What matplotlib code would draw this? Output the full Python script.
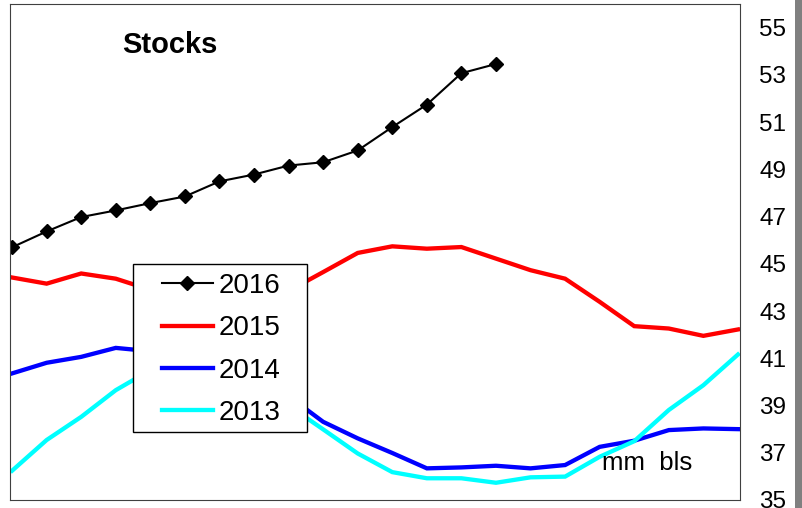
import matplotlib

matplotlib.use("Agg")
import matplotlib.pyplot as plt
from matplotlib.patches import Rectangle

plt.rcParams["font.family"] = ["Liberation Sans", "DejaVu Sans"]

# weekly stocks, mm bls (no x labels on the original)
weeks = list(range(22))
stocks_2016 = [45.7, 46.37, 46.98, 47.26, 47.57, 47.85, 48.49, 48.78, 49.16, 49.3,
               49.8, 50.79, 51.74, 53.07, 53.46]
stocks_2015 = [44.42, 44.16, 44.59, 44.37, 43.9, 43.8, 43.7, 43.8, 43.85, 44.65, 45.46,
               45.74, 45.64, 45.71, 45.22, 44.73, 44.37, 43.39, 42.36, 42.26, 41.95, 42.22]
stocks_2014 = [40.36, 40.81, 41.06, 41.44, 41.3, 41.0, 40.5, 40.0, 39.4, 38.31, 37.61,
               36.99, 36.34, 36.38, 36.45, 36.34, 36.48, 37.25, 37.51, 37.96, 38.03, 38.0]
stocks_2013 = [36.24, 37.54, 38.52, 39.65, 40.5, 40.8, 40.7, 40.2, 39.0, 37.99, 36.97,
               36.18, 35.92, 35.92, 35.73, 35.96, 35.99, 36.83, 37.49, 38.81, 39.86, 41.16]
y_ticks = list(range(35, 56, 2))

W, H = 803, 508
fig = plt.figure(figsize=(W / 100, H / 100), dpi=100)
ax = fig.add_axes([10 / W, 8 / H, 730 / W, 496 / H])

l14, = ax.plot(weeks, stocks_2014, color="#0000FF", lw=3.1, solid_joinstyle="miter", label="2014")
l13, = ax.plot(weeks, stocks_2013, color="#00FFFF", lw=3.1, solid_joinstyle="miter", label="2013")
l15, = ax.plot(weeks, stocks_2015, color="#FF0000", lw=3.1, solid_joinstyle="miter", label="2015")
l16, = ax.plot(weeks[:len(stocks_2016)], stocks_2016, color="black", lw=1.5, marker="D",
               markersize=7.5, label="2016")

ax.set_xlim(-0.06, 21.06)
ax.set_ylim(35, 56)
ax.set_xticks([])
ax.yaxis.tick_right()
ax.set_yticks(y_ticks)
ax.tick_params(axis="y", length=0, pad=14, labelsize=17.5)
for sp in ax.spines.values():
    sp.set_color("#404040")
    sp.set_linewidth(0.8)

ax.text((170 - 10) / 730, 1 - 41 / 496, "Stocks", transform=ax.transAxes,
        ha="center", va="center", fontsize=21, fontweight="bold")
ax.text((647 - 10) / 730, (500 - 463) / 496, "mm  bls", transform=ax.transAxes,
        ha="center", va="center", fontsize=18.5)

# legend box drawn by hand to get Excel-like padding
fig.patches.append(Rectangle((133 / W, 1 - 432 / H), 174 / W, 168 / H, transform=fig.transFigure,
                             facecolor="white", edgecolor="black", lw=1.0, zorder=5))
leg = fig.legend([l16, l15, l14, l13], ["2016", "2015", "2014", "2013"],
                 loc="upper left", bbox_to_anchor=(162 / W, 1 - 273 / H), frameon=False,
                 fontsize=20, handlelength=1.83, handletextpad=0.22, labelspacing=0.59,
                 borderpad=0.0, borderaxespad=0.0)
leg.set_zorder(6)

# grey strip at the right edge
fig.patches.append(Rectangle((795 / W, 0), 8 / W, 1, transform=fig.transFigure,
                             facecolor="#808080", edgecolor="none"))

fig.savefig("out.png", dpi=100)
